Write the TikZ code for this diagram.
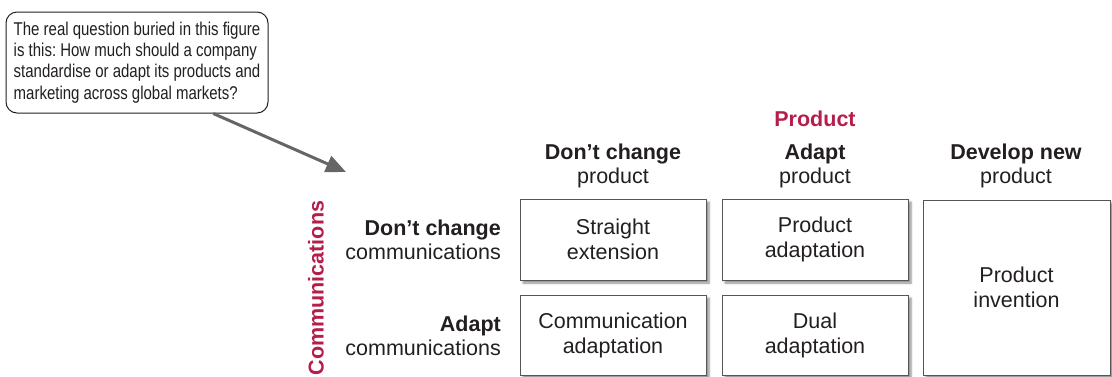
\documentclass[tikz,border=0pt]{standalone}
\usepackage{fontspec}
\setmainfont{Liberation Sans}
\newfontfamily\narrowfont[FakeStretch=0.81]{Liberation Sans}
\usetikzlibrary{arrows.meta,shadows.blur,calc}
\definecolor{txt}{HTML}{231F20}
\definecolor{crim}{HTML}{B51E4B}
\definecolor{edge}{HTML}{555555}
\definecolor{arr}{HTML}{666666}
\tikzset{
  cell/.style={draw=edge,line width=0.9pt,fill=white,align=center,text=txt,
    font=\fontsize{21.5}{25}\selectfont,minimum width=186pt,minimum height=81pt,inner sep=0pt,
    blur shadow={shadow xshift=3pt,shadow yshift=-3pt,shadow blur steps=6,shadow opacity=45}},
  head/.style={align=center,text=txt,font=\fontsize{21.5}{24}\selectfont,inner sep=0pt},
  rowhead/.style={align=right,text=txt,font=\fontsize{21.5}{24.5}\selectfont,inner sep=0pt,anchor=east},
  axis/.style={text=crim,font=\bfseries\fontsize{21.5}{24}\selectfont,inner sep=0pt},
  callout/.style={draw=txt,line width=1pt,rounded corners=11pt,fill=white,align=left,
    text=txt,font=\narrowfont\frenchspacing\fontsize{18.5}{21.3}\selectfont,minimum width=262pt,minimum height=101pt,inner sep=0pt},
  pointer/.style={draw=arr,line width=3pt,-{Triangle[length=20pt,width=17pt]}}
}
\begin{document}
\begin{tikzpicture}[x=1pt,y=-1pt]
\useasboundingbox (0,0) rectangle (1112,376);
\node[callout] (call) at (137,62.5) {The real question buried in this figure\\is this: How much should a company\\standardise or adapt its products and\\marketing across global markets?};
\coordinate (tip) at (346,172);
\draw[pointer] ($(call.south west)!0.79!(call.south east)$) -- (tip);

\node[axis] (prod) at (815,119) {Product};
\node[head] (h1) at (613,166) {\textbf{Don’t change}\\product};
\node[head] (h2) at (815,166) {\textbf{Adapt}\\product};
\node[head] (h3) at (1016,166) {\textbf{Develop new}\\product};

\node[axis,rotate=90] (comm) at (316,288) {Communications};
\node[rowhead] (r1) at (501,240) {\textbf{Don’t change}\\communications};
\node[rowhead] (r2) at (501,336) {\textbf{Adapt}\\communications};

\node[cell] (c11) at (613,239.5) {Straight\\extension};
\node[cell] (c12) at (815,239.5) {Product\\adaptation};
\node[cell,minimum height=80pt] (c21) at (613,335) {Communication\\adaptation};
\node[cell,minimum height=80pt] (c22) at (815,335) {Dual\\adaptation};
\node[cell,minimum width=187pt,minimum height=175pt] (c3) at (1016.5,287.5) {Product\\invention};
\end{tikzpicture}
\end{document}
